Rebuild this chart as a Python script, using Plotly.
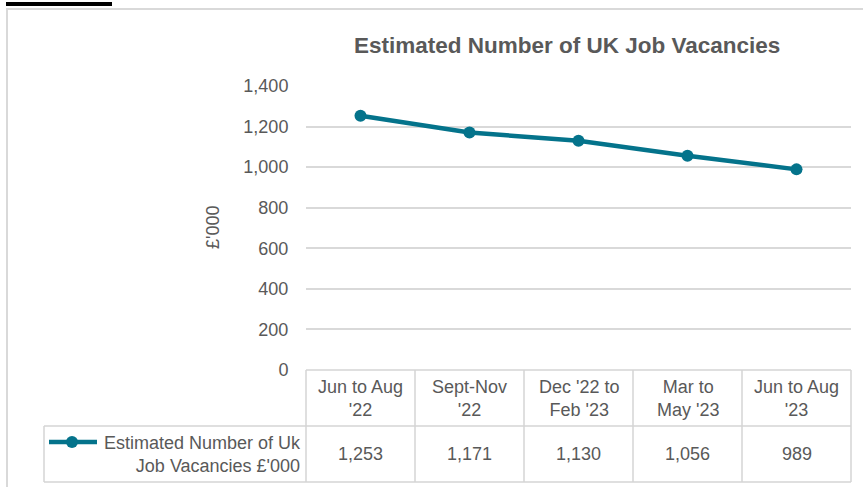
import plotly.graph_objects as go

# ---- data ----
categories = ["Jun to Aug<br>'22", "Sept-Nov<br>'22", "Dec '22 to<br>Feb '23", "Mar to<br>May '23", "Jun to Aug<br>'23"]
vacancies = [1253, 1171, 1130, 1056, 989]
y_ticks = [0, 200, 400, 600, 800, 1000, 1200, 1400]
series_name = "Estimated Number of Uk<br>Job Vacancies £'000"
chart_title = "Estimated Number of UK Job Vacancies"
y_title = "£'000"

# ---- layout helpers ----
W, H = 863, 487
L, R, T, B = 306, 12, 86, 117
PW = W - L - R
PH = H - T - B
FONT = "Liberation Sans, Arial, sans-serif"
TXT = "#595959"
GRID = "#d9d9d9"
TEAL = "#04738B"


def px(x):
    return (x - L) / PW


def py(y):
    return (H - B - y) / PH


fig = go.Figure()
fig.add_trace(go.Scatter(
    x=list(range(len(categories))), y=vacancies, mode="lines+markers",
    name=series_name.replace("<br>", " "),
    line=dict(color=TEAL, width=4.5),
    marker=dict(color=TEAL, size=12),
    showlegend=False, hoverinfo="x+y",
))

shapes = []
annotations = []
n = len(categories)

# outer chart border and top black bar
shapes.append(dict(type="rect", xref="paper", yref="paper", x0=px(7), x1=px(880), y0=py(500), y1=py(9),
                   line=dict(color=GRID, width=2), fillcolor="rgba(0,0,0,0)", layer="below"))
shapes.append(dict(type="rect", xref="paper", yref="paper", x0=px(6), x1=px(112), y0=py(6), y1=py(2),
                   line=dict(width=0), fillcolor="black"))

# data table grid
tcol = "#d4d4d4"
tw = 1.5
y_top, y_mid, y_bot = 370, 426, 482
for i in range(n + 1):
    shapes.append(dict(type="line", xref="paper", yref="paper", x0=i / n, x1=i / n, y0=py(y_top), y1=py(y_bot),
                       line=dict(color=tcol, width=tw)))
shapes.append(dict(type="line", xref="paper", yref="paper", x0=0, x1=1, y0=py(y_top), y1=py(y_top),
                   line=dict(color=tcol, width=tw)))
for yy in (y_mid, y_bot):
    shapes.append(dict(type="line", xref="paper", yref="paper", x0=px(44), x1=1, y0=py(yy), y1=py(yy),
                       line=dict(color=tcol, width=tw)))
shapes.append(dict(type="line", xref="paper", yref="paper", x0=px(44), x1=px(44), y0=py(y_mid), y1=py(y_bot),
                   line=dict(color=tcol, width=tw)))

# legend key in the table
shapes.append(dict(type="line", xref="paper", yref="paper", x0=px(49), x1=px(97), y0=py(442), y1=py(442),
                   line=dict(color=TEAL, width=4.5)))
shapes.append(dict(type="circle", xref="paper", yref="paper", x0=px(66), x1=px(78), y0=py(448), y1=py(436),
                   line=dict(color=TEAL, width=0), fillcolor=TEAL))

# table texts
for i, (c, v) in enumerate(zip(categories, vacancies)):
    annotations.append(dict(xref="paper", yref="paper", x=(i + 0.5) / n, y=py(398), text=c, showarrow=False,
                            xanchor="center", yanchor="middle", align="center",
                            font=dict(family=FONT, size=18, color=TXT)))
    annotations.append(dict(xref="paper", yref="paper", x=(i + 0.5) / n, y=py(454), text=f"{v:,}", showarrow=False,
                            xanchor="center", yanchor="middle",
                            font=dict(family=FONT, size=18, color=TXT)))
annotations.append(dict(xref="paper", yref="paper", x=px(303), y=py(454), text=series_name, showarrow=False,
                        xanchor="right", yanchor="middle", align="right",
                        font=dict(family=FONT, size=18, color=TXT)))

# title and axis title
annotations.append(dict(xref="paper", yref="paper", x=px(567), y=py(46), text=f"<b>{chart_title}</b>", showarrow=False,
                        xanchor="center", yanchor="middle", font=dict(family=FONT, size=22.5, color=TXT)))
annotations.append(dict(xref="paper", yref="paper", x=px(213), y=py(228), text=y_title, showarrow=False,
                        textangle=-90, xanchor="center", yanchor="middle", font=dict(family=FONT, size=18, color=TXT)))

fig.update_layout(
    width=W, height=H,
    margin=dict(l=L, r=R, t=T, b=B, pad=0),
    paper_bgcolor="white", plot_bgcolor="white",
    shapes=shapes, annotations=annotations,
    xaxis=dict(range=[-0.5, n - 0.5], showticklabels=False, showgrid=False, zeroline=False,
               showline=False, ticks="", fixedrange=True),
    yaxis=dict(range=[0, 1400], tickvals=y_ticks, tickformat=",", showgrid=True, gridcolor=GRID, gridwidth=1.5,
               zeroline=False, showline=False, ticks="outside", ticklen=13, tickcolor="rgba(0,0,0,0)",
               tickfont=dict(family=FONT, size=18, color=TXT), fixedrange=True),
    font=dict(family=FONT, color=TXT),
)

fig.write_html(
    "out.html",
    config={"displayModeBar": False},
    post_script="document.body.style.margin='0';document.body.style.overflow='hidden';",
)
